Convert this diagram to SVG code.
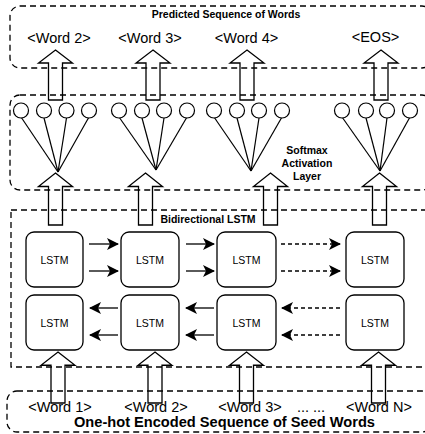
<svg xmlns="http://www.w3.org/2000/svg" width="425" height="434" viewBox="0 0 425 434">
<defs>
<style>
.frame{fill:none;stroke:#000;stroke-width:1.3;stroke-dasharray:6 4}
.big{fill:none;stroke:#000;stroke-width:1.3;stroke-linejoin:miter}
.lstm{fill:#fff;stroke:#000;stroke-width:1.3}
.neuron{fill:#fff;stroke:#000;stroke-width:1.2}
.fan{stroke:#000;stroke-width:1.2}
.conn{stroke:#000;stroke-width:1.3;fill:none}
.dash{stroke-dasharray:4 3}
.word{font-family:"Liberation Sans",Arial,sans-serif;font-size:14.5px;text-anchor:middle;fill:#000}
.lbl{font-family:"Liberation Sans",Arial,sans-serif;font-size:10.5px;text-anchor:middle;fill:#000}
.ttl{font-family:"Liberation Sans",Arial,sans-serif;font-weight:bold;font-size:10.5px;text-anchor:middle;fill:#000}
</style>
<marker id="ah" markerUnits="userSpaceOnUse" markerWidth="14" markerHeight="14" refX="11" refY="6" orient="auto">
<path d="M0,0 L12,6 L0,12 L3,6 z" fill="#000"/>
</marker>
<path id="bigArrow" d="M0,0 L17,13 L7,13 L7,50 L-7,50 L-7,13 L-17,13 z"/>
</defs>

<g id="predicted">
<rect class="frame" x="10" y="6" width="422" height="62" rx="10"/>
<text class="ttl" x="226" y="18">Predicted Sequence of Words</text>
<text class="word" x="59" y="43">&lt;Word 2&gt;</text>
<text class="word" x="150" y="43">&lt;Word 3&gt;</text>
<text class="word" x="246.5" y="43">&lt;Word 4&gt;</text>
<text class="word" x="375.5" y="42">&lt;EOS&gt;</text>
</g>

<g id="softmax">
<rect class="frame" x="10" y="95" width="422" height="95" rx="10"/>
<text class="ttl" x="307" y="154">Softmax</text>
<text class="ttl" x="307" y="167">Activation</text>
<text class="ttl" x="307" y="180">Layer</text>
<g id="fan1">
<line class="fan" x1="21" y1="117" x2="58" y2="172"/><line class="fan" x1="44" y1="118" x2="58" y2="172"/>
<line class="fan" x1="66.5" y1="118" x2="58" y2="172"/><line class="fan" x1="89" y1="117" x2="58" y2="172"/>
<circle class="neuron" cx="21" cy="110.5" r="7.5"/><circle class="neuron" cx="44" cy="110.5" r="7.5"/>
<circle class="neuron" cx="66.5" cy="110.5" r="7.5"/><circle class="neuron" cx="89" cy="110.5" r="7.5"/>
</g>
<g id="fan2">
<line class="fan" x1="119" y1="117" x2="156" y2="170"/><line class="fan" x1="142" y1="118" x2="156" y2="170"/>
<line class="fan" x1="164" y1="118" x2="156" y2="170"/><line class="fan" x1="187" y1="117" x2="156" y2="170"/>
<circle class="neuron" cx="119" cy="110.5" r="7.5"/><circle class="neuron" cx="142" cy="110.5" r="7.5"/>
<circle class="neuron" cx="164" cy="110.5" r="7.5"/><circle class="neuron" cx="187" cy="110.5" r="7.5"/>
</g>
<g id="fan3">
<line class="fan" x1="214" y1="117" x2="251" y2="171"/><line class="fan" x1="237" y1="118" x2="251" y2="171"/>
<line class="fan" x1="259" y1="118" x2="251" y2="171"/><line class="fan" x1="282" y1="117" x2="251" y2="171"/>
<circle class="neuron" cx="214" cy="110.5" r="7.5"/><circle class="neuron" cx="237" cy="110.5" r="7.5"/>
<circle class="neuron" cx="259" cy="110.5" r="7.5"/><circle class="neuron" cx="282" cy="110.5" r="7.5"/>
</g>
<g id="fan4">
<line class="fan" x1="342" y1="117" x2="380" y2="171"/><line class="fan" x1="366" y1="118" x2="380" y2="171"/>
<line class="fan" x1="387" y1="118" x2="380" y2="171"/><line class="fan" x1="410" y1="117" x2="380" y2="171"/>
<circle class="neuron" cx="342" cy="110.5" r="7.5"/><circle class="neuron" cx="366" cy="110.5" r="7.5"/>
<circle class="neuron" cx="387" cy="110.5" r="7.5"/><circle class="neuron" cx="410" cy="110.5" r="7.5"/>
</g>
</g>

<g id="bilstm">
<rect class="frame" x="11" y="210" width="422" height="157"/>
<text class="ttl" x="208" y="223">Bidirectional LSTM</text>
</g>

<g id="lstm-f1"><rect class="lstm" x="26" y="232" width="57" height="55" rx="8"/><text class="lbl" x="54.5" y="264">LSTM</text></g>
<g id="lstm-f2"><rect class="lstm" x="121" y="232" width="58" height="55" rx="8"/><text class="lbl" x="150" y="264">LSTM</text></g>
<g id="lstm-f3"><rect class="lstm" x="217" y="232" width="59" height="55" rx="8"/><text class="lbl" x="246.5" y="264">LSTM</text></g>
<g id="lstm-f4"><rect class="lstm" x="346" y="232" width="58" height="55" rx="8"/><text class="lbl" x="375" y="264">LSTM</text></g>
<g id="lstm-b1"><rect class="lstm" x="26" y="295" width="57" height="55" rx="8"/><text class="lbl" x="54.5" y="327">LSTM</text></g>
<g id="lstm-b2"><rect class="lstm" x="121" y="295" width="58" height="55" rx="8"/><text class="lbl" x="150" y="327">LSTM</text></g>
<g id="lstm-b3"><rect class="lstm" x="217" y="295" width="59" height="55" rx="8"/><text class="lbl" x="246.5" y="327">LSTM</text></g>
<g id="lstm-b4"><rect class="lstm" x="346" y="295" width="58" height="55" rx="8"/><text class="lbl" x="375" y="327">LSTM</text></g>

<g id="seed">
<rect class="frame" x="7" y="391" width="425" height="41" rx="10"/>
<text class="word" x="60" y="412">&lt;Word 1&gt;</text>
<text class="word" x="156" y="412">&lt;Word 2&gt;</text>
<text class="word" x="250" y="412">&lt;Word 3&gt;</text>
<text class="word" x="311" y="412">... ...</text>
<text class="word" x="379" y="412">&lt;Word N&gt;</text>
<text class="ttl" x="224.5" y="427" style="font-size:14px" textLength="301" lengthAdjust="spacingAndGlyphs">One-hot Encoded Sequence of Seed Words</text>
</g>

<g id="connectors">
<use href="#bigArrow" class="big" transform="translate(55.5,50)"/>
<use href="#bigArrow" class="big" transform="translate(153,50)"/>
<use href="#bigArrow" class="big" transform="translate(247,50)"/>
<use href="#bigArrow" class="big" transform="translate(381,50)"/>
<use href="#bigArrow" class="big" transform="translate(55.5,173) scale(1,1.04)"/>
<use href="#bigArrow" class="big" transform="translate(145.5,173) scale(1,1.04)"/>
<use href="#bigArrow" class="big" transform="translate(270.5,173) scale(1,1.04)"/>
<use href="#bigArrow" class="big" transform="translate(379.5,173) scale(1,1.04)"/>
<use href="#bigArrow" class="big" transform="translate(58,352) scale(1,1.02)"/>
<use href="#bigArrow" class="big" transform="translate(155,352) scale(1,1.02)"/>
<use href="#bigArrow" class="big" transform="translate(246.5,352) scale(1,1.02)"/>
<use href="#bigArrow" class="big" transform="translate(378.5,352) scale(1,1.02)"/>
<line class="conn" x1="89" y1="244" x2="118" y2="244" marker-end="url(#ah)"/>
<line class="conn" x1="89" y1="271" x2="118" y2="271" marker-end="url(#ah)"/>
<line class="conn" x1="186" y1="244" x2="214" y2="244" marker-end="url(#ah)"/>
<line class="conn" x1="186" y1="271" x2="214" y2="271" marker-end="url(#ah)"/>
<line class="conn dash" x1="281" y1="244" x2="340" y2="244" marker-end="url(#ah)"/>
<line class="conn dash" x1="281" y1="271" x2="340" y2="271" marker-end="url(#ah)"/>
<line class="conn" x1="118" y1="308" x2="90" y2="308" marker-end="url(#ah)"/>
<line class="conn" x1="118" y1="335" x2="90" y2="335" marker-end="url(#ah)"/>
<line class="conn" x1="214" y1="308" x2="186" y2="308" marker-end="url(#ah)"/>
<line class="conn" x1="214" y1="335" x2="186" y2="335" marker-end="url(#ah)"/>
<line class="conn dash" x1="340" y1="308" x2="282" y2="308" marker-end="url(#ah)"/>
<line class="conn dash" x1="340" y1="335" x2="282" y2="335" marker-end="url(#ah)"/>
</g>
</svg>
